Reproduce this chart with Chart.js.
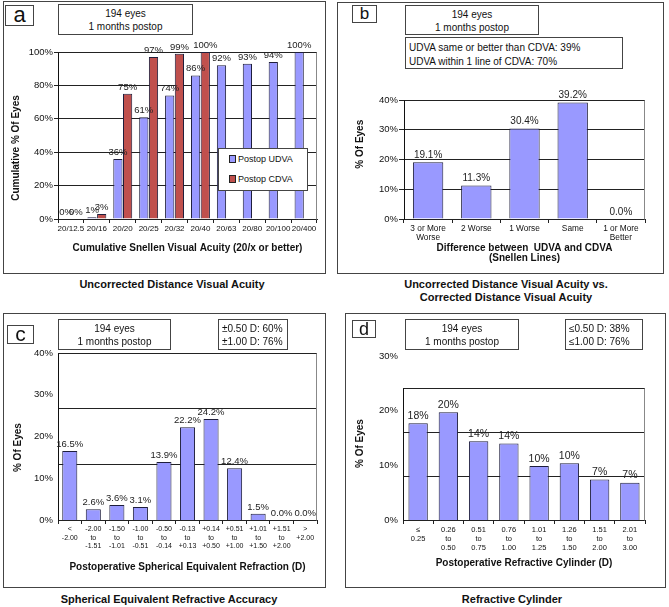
<!DOCTYPE html>
<html>
<head>
<meta charset="utf-8">
<script src="https://cdn.jsdelivr.net/npm/chart.js@4"></script>
<style>
  body { margin: 0; background: #fff; font-family: 'Liberation Sans', Arial, sans-serif; color: #111; }
  #fig { position: relative; width: 669px; height: 607px; overflow: hidden; }
  .abs { position: absolute; box-sizing: border-box; }
  .frame { border: 1px solid #444; }
  .box { border: 1px solid #444; background: #fff; font-size: 10px; line-height: 13px; }
  .letter { border: 1px solid #444; background: #fff; text-align: center; }
  .cap { font-weight: bold; font-size: 11px; line-height: 13px; text-align: center; white-space: nowrap; }
  canvas { position: absolute; }
  .li { height: 20px; line-height: 20px; white-space: nowrap; }
  .sw { display: inline-block; width: 5px; height: 6px; border: 1px solid #222; margin-right: 2px; vertical-align: -1px; }
</style>
</head>
<body>
<div id="fig">
  <!-- frames -->
  <div class="abs frame" style="left:3px;top:1px;width:323px;height:273px"></div>
  <div class="abs frame" style="left:337px;top:2px;width:327px;height:272px"></div>
  <div class="abs frame" style="left:3px;top:313px;width:323px;height:275px"></div>
  <div class="abs frame" style="left:345px;top:313px;width:321px;height:275px"></div>

  <canvas id="ca" width="318" height="220" style="left:4px;top:38px"></canvas>
  <canvas id="cb" width="310" height="179" style="left:338px;top:86px"></canvas>
  <canvas id="cc" width="318" height="240" style="left:4px;top:340px"></canvas>
  <canvas id="cd" width="302" height="237" style="left:346px;top:343px"></canvas>

  <!-- panel a -->
  <div class="abs letter" style="left:5px;top:5px;width:29px;height:21px;font-size:22px;line-height:17px">a</div>
  <div class="abs box" style="left:58px;top:4px;width:135px;height:31px;text-align:center;padding-top:2px">194 eyes<br>1 months postop</div>
  <div class="abs box" id="legA" style="left:218px;top:148px;width:90px;height:43px;font-size:9px;padding-left:10px"></div>
  <div class="abs cap" style="left:0;top:278px;width:344px">Uncorrected Distance Visual Acuity</div>

  <!-- panel b -->
  <div class="abs letter" style="left:352px;top:5px;width:25px;height:18px;font-size:17px;line-height:16px">b</div>
  <div class="abs box" style="left:405px;top:5px;width:134px;height:30px;text-align:center;padding-top:2px">194 eyes<br>1 months postop</div>
  <div class="abs box" style="left:405px;top:37px;width:218px;height:32px;padding:3px 0 0 3px;line-height:14px">UDVA same or better than CDVA: 39%<br>UDVA within 1 line of CDVA: 70%</div>
  <div class="abs cap" style="left:336px;top:278px;width:340px">Uncorrected Distance Visual Acuity vs.<br>Corrected Distance Visual Acuity</div>

  <!-- panel c -->
  <div class="abs letter" style="left:7px;top:325px;width:27px;height:19px;font-size:21px;line-height:15px">c</div>
  <div class="abs box" style="left:58px;top:319px;width:113px;height:31px;text-align:center;padding-top:2px">194 eyes<br>1 months postop</div>
  <div class="abs box" style="left:218px;top:319px;width:70px;height:31px;padding:2px 0 0 3px">±0.50 D: 60%<br>±1.00 D: 76%</div>
  <div class="abs cap" style="left:0;top:593px;width:338px">Spherical Equivalent Refractive Accuracy</div>

  <!-- panel d -->
  <div class="abs letter" style="left:352px;top:320px;width:24px;height:18px;font-size:18px;line-height:16px">d</div>
  <div class="abs box" style="left:405px;top:319px;width:114px;height:31px;text-align:center;padding-top:2px">194 eyes<br>1 months postop</div>
  <div class="abs box" style="left:565px;top:319px;width:78px;height:31px;padding:2px 0 0 3px">≤0.50 D: 38%<br>≤1.00 D: 76%</div>
  <div class="abs cap" style="left:342px;top:593px;width:340px">Refractive Cylinder</div>
</div>

<script>
// panel a: cumulative Snellen acuity
const aLabels = ['20/12.5', '20/16', '20/20', '20/25', '20/32', '20/40', '20/63', '20/80', '20/100', '20/400'];
const aUdva = [0, 1, 36, 61, 74, 86, 92, 93, 94, 100];
const aCdva = [0, 3, 75, 97, 99, 100, null, null, null, null];

// panel b: UDVA vs CDVA difference
const bLabels = [['3 or More', 'Worse'], '2 Worse', '1 Worse', 'Same', ['1 or More', 'Better']];
const bValues = [19.1, 11.3, 30.4, 39.2, 0.0];

// panel c: spherical equivalent
const cLabels = [['<', '-2.00'], ['-2.00', 'to', '-1.51'], ['-1.50', 'to', '-1.01'], ['-1.00', 'to', '-0.51'],
  ['-0.50', 'to', '-0.14'], ['-0.13', 'to', '+0.13'], ['+0.14', 'to', '+0.50'], ['+0.51', 'to', '+1.00'],
  ['+1.01', 'to', '+1.50'], ['+1.51', 'to', '+2.00'], ['>', '+2.00']];
const cValues = [16.5, 2.6, 3.6, 3.1, 13.9, 22.2, 24.2, 12.4, 1.5, 0.0, 0.0];

// panel d: refractive cylinder
const dLabels = [['≤', '0.25'], ['0.26', 'to', '0.50'], ['0.51', 'to', '0.75'], ['0.76', 'to', '1.00'],
  ['1.01', 'to', '1.25'], ['1.26', 'to', '1.50'], ['1.51', 'to', '2.00'], ['2.01', 'to', '3.00']];
const dValues = [17.7, 19.7, 14.4, 14.0, 9.9, 10.4, 7.4, 6.8];
const dGridTicks = [0, 10, 20, 30];

const UDVA = '#9999ff';
const CDVA = '#c0504d';
const EDGE = '#1e1e3c';
const LINE = '#222';

Chart.defaults.font.family = "'Liberation Sans', Arial, sans-serif";
Chart.defaults.color = '#111';

// draws the value above each bar
function valueLabels(size, fmt) {
  return {
    id: 'valueLabels',
    afterDatasetsDraw(chart) {
      const ctx = chart.ctx;
      ctx.save();
      ctx.font = size + "px 'Liberation Sans', Arial, sans-serif";
      ctx.fillStyle = '#222';
      ctx.textAlign = 'center';
      ctx.textBaseline = 'bottom';
      chart.data.datasets.forEach((ds, i) => {
        chart.getDatasetMeta(i).data.forEach((bar, j) => {
          const v = ds.data[j];
          if (v === null) return;
          ctx.fillText(fmt(v), bar.x, bar.y - 2);
        });
      });
      ctx.restore();
    }
  };
}

// left axis line and grey right edge, from 0 up to topValue
function sideLines(topValue) {
  return {
    id: 'sideLines',
    beforeDatasetsDraw(chart) {
      const ys = chart.scales.y, area = chart.chartArea, ctx = chart.ctx;
      const y0 = Math.round(ys.getPixelForValue(0)) + 0.5;
      const y1 = Math.round(ys.getPixelForValue(topValue)) + 0.5;
      ctx.save();
      ctx.lineWidth = 1;
      ctx.strokeStyle = '#888';
      ctx.beginPath();
      ctx.moveTo(Math.round(area.right) - 0.5, y1);
      ctx.lineTo(Math.round(area.right) - 0.5, y0);
      ctx.stroke();
      ctx.strokeStyle = '#111';
      ctx.beginPath();
      ctx.moveTo(Math.round(area.left) + 0.5, y1);
      ctx.lineTo(Math.round(area.left) + 0.5, y0);
      ctx.stroke();
      ctx.restore();
    }
  };
}

function xScale(size, lh, title, padBottom, h) {
  return {
    ticks: { font: { size: size, lineHeight: lh }, color: '#111', maxRotation: 0, minRotation: 0, autoSkip: false, padding: 1 },
    grid: { display: true, drawOnChartArea: false, drawTicks: true, tickLength: 4, color: LINE },
    border: { display: true, color: LINE },
    title: { display: true, text: title, color: '#111', font: { size: 10, weight: 'bold', lineHeight: 1 }, padding: { top: 0, bottom: padBottom } },
    afterFit: s => { s.height = h; }
  };
}

function yTitle(text, padTop) {
  return { display: true, text: text, color: '#111', font: { size: 10, weight: 'bold', lineHeight: 1 }, padding: { top: padTop, bottom: 0 } };
}

const pct = v => v + '%';
const base = {
  responsive: false,
  animation: false,
  plugins: { legend: { display: false }, tooltip: { enabled: false } }
};

// ---- panel a
const chartA = new Chart(document.getElementById('ca'), {
  type: 'bar',
  data: {
    labels: aLabels,
    datasets: [
      { label: 'Postop UDVA', data: aUdva, backgroundColor: UDVA, borderColor: EDGE, borderWidth: 1, categoryPercentage: 0.75, barPercentage: 0.95 },
      { label: 'Postop CDVA', data: aCdva, backgroundColor: CDVA, borderColor: EDGE, borderWidth: 1, categoryPercentage: 0.75, barPercentage: 0.95 }
    ]
  },
  options: Object.assign({}, base, {
    layout: { padding: { top: 14, right: 5, left: 0, bottom: 0 } },
    scales: {
      x: xScale(8, 1.2, 'Cumulative Snellen Visual Acuity (20/x or better)', 5, 39),
      y: {
        min: 0, max: 100,
        ticks: { stepSize: 20, callback: pct, font: { size: 9.5 }, color: '#111', padding: 1 },
        grid: { color: LINE, tickLength: 4 },
        border: { display: false },
        title: yTitle('Cumulative % Of Eyes' + ' '.repeat(9), 7),
        afterFit: s => { s.width = 54; }
      }
    }
  }),
  plugins: [valueLabels(9.5, pct), sideLines(100)]
});

// legend box for panel a, built from the datasets
const legA = document.getElementById('legA');
chartA.data.datasets.forEach(ds => {
  legA.insertAdjacentHTML('beforeend',
    '<div class="li"><span class="sw" style="background:' + ds.backgroundColor + '"></span>' + ds.label + '</div>');
});

// ---- panel b
new Chart(document.getElementById('cb'), {
  type: 'bar',
  data: {
    labels: bLabels,
    datasets: [{ label: '% Of Eyes', data: bValues, backgroundColor: UDVA, borderColor: EDGE, borderWidth: 1, categoryPercentage: 1, barPercentage: 0.63 }]
  },
  options: Object.assign({}, base, {
    layout: { padding: { top: 14, right: 3, left: 0, bottom: 0 } },
    scales: {
      x: xScale(8.3, 1.1, ['Difference between  UDVA and CDVA', '(Snellen Lines)'], 2, 46),
      y: {
        min: 0, max: 40,
        ticks: { stepSize: 10, callback: pct, font: { size: 9.5 }, color: '#111', padding: 1 },
        grid: { color: LINE, tickLength: 5 },
        border: { display: false },
        title: yTitle(' '.repeat(11) + '% Of Eyes', 17),
        afterFit: s => { s.width = 66; }
      }
    }
  }),
  plugins: [valueLabels(10, v => v.toFixed(1) + '%'), sideLines(40)]
});

// ---- panel c (tick labels read 0-40 while bars and grid use 0-30)
new Chart(document.getElementById('cc'), {
  type: 'bar',
  data: {
    labels: cLabels,
    datasets: [{ label: '% Of Eyes', data: cValues, backgroundColor: UDVA, borderColor: EDGE, borderWidth: 1, categoryPercentage: 1, barPercentage: 0.64 }]
  },
  options: Object.assign({}, base, {
    layout: { padding: { top: 13, right: 5, left: 0, bottom: 0 } },
    scales: {
      x: xScale(7, 1.2, 'Postoperative Spherical Equivalent Refraction (D)', 8, 60),
      yl: {
        type: 'linear', axis: 'y', position: 'left', weight: 1,
        min: 0, max: 40,
        ticks: { stepSize: 10, callback: pct, font: { size: 9.5 }, color: '#111', padding: 5 },
        grid: { display: false, drawTicks: false },
        border: { display: false },
        title: yTitle('% Of Eyes' + ' '.repeat(8), 9),
        afterFit: s => { s.width = 54; }
      },
      y: {
        type: 'linear', position: 'left', weight: 0,
        min: 0, max: 30,
        ticks: { display: false, stepSize: 10 },
        grid: { color: LINE, drawTicks: false },
        border: { display: false },
        afterFit: s => { s.width = 0; }
      }
    }
  }),
  plugins: [valueLabels(9.5, v => v.toFixed(1) + '%'), sideLines(30)]
});

// ---- panel d (top tick label sits above the 30% line)
new Chart(document.getElementById('cd'), {
  type: 'bar',
  data: {
    labels: dLabels,
    datasets: [{ label: '% Of Eyes', data: dValues, backgroundColor: UDVA, borderColor: EDGE, borderWidth: 1, categoryPercentage: 1, barPercentage: 0.64 }]
  },
  options: Object.assign({}, base, {
    layout: { padding: { top: 13, right: 3, left: 0, bottom: 0 } },
    scales: {
      x: xScale(7.5, 1.2, 'Postoperative Refractive Cylinder (D)', 12, 60),
      yl: {
        type: 'linear', axis: 'y', position: 'left', weight: 1,
        min: 0, max: 30,
        ticks: { stepSize: 10, callback: pct, font: { size: 9.5 }, color: '#111', padding: 5 },
        grid: { display: false, drawTicks: false },
        border: { display: false },
        title: yTitle('% Of Eyes' + ' '.repeat(4), 9),
        afterFit: s => { s.width = 57; }
      },
      y: {
        type: 'linear', position: 'left', weight: 0,
        min: 0, max: 37.3,
        ticks: { display: false },
        afterBuildTicks: s => { s.ticks = dGridTicks.map(v => ({ value: v })); },
        grid: { color: LINE, drawTicks: false },
        border: { display: false },
        afterFit: s => { s.width = 0; }
      }
    }
  }),
  plugins: [valueLabels(10.5, v => v.toFixed(0) + '%'), sideLines(30)]
});
</script>
</body>
</html>
